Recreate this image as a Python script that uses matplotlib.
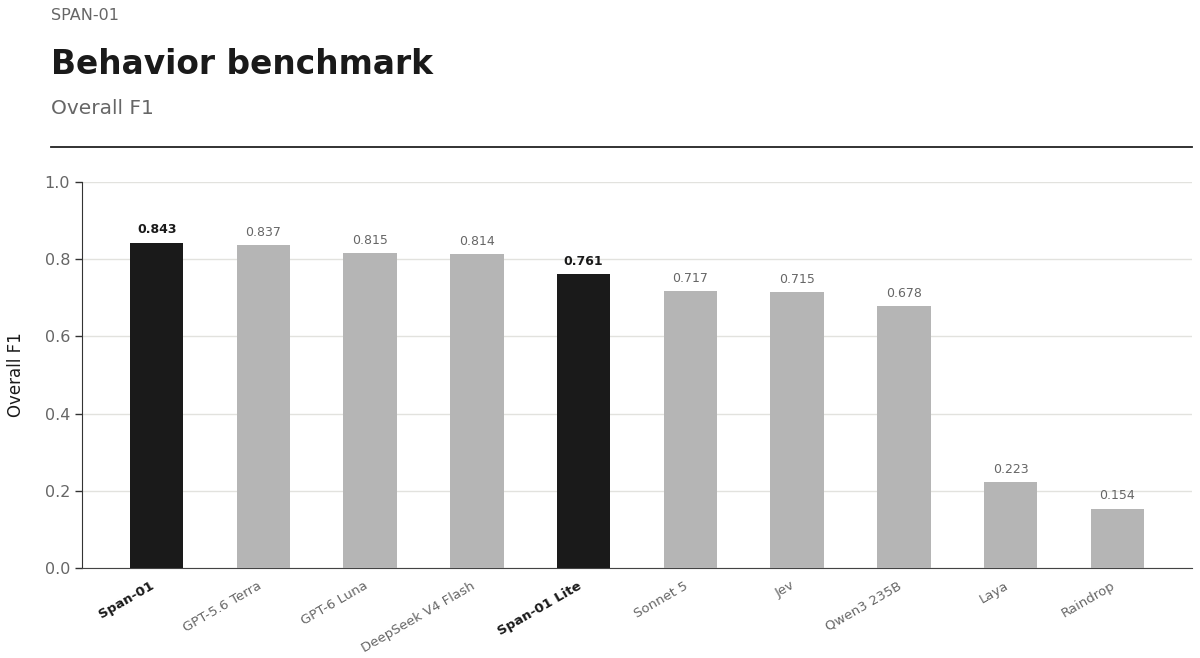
import matplotlib
matplotlib.use("Agg")
import matplotlib.pyplot as plt
from matplotlib.lines import Line2D

models = ["Span-01", "GPT-5.6 Terra", "GPT-6 Luna", "DeepSeek V4 Flash", "Span-01 Lite",
          "Sonnet 5", "Jev", "Qwen3 235B", "Laya", "Raindrop"]
f1 = [0.843, 0.837, 0.815, 0.814, 0.761, 0.717, 0.715, 0.678, 0.223, 0.154]
highlight = [True, False, False, False, True, False, False, False, False, False]
yticks = [0.0, 0.2, 0.4, 0.6, 0.8, 1.0]

DARK = "#1a1a1a"
GRAY = "#b5b5b5"
TXT = "#666666"

plt.rcParams['font.family'] = ['DejaVu Sans']
fig = plt.figure(figsize=(12, 6.58), dpi=100)
ax = fig.add_axes([82/1200, 1-568/658, (1192-82)/1200, (568-182)/658])

x = list(range(len(models)))
colors = [DARK if h else GRAY for h in highlight]
ax.bar(x, f1, width=0.5, color=colors, zorder=3)
for xi, v, h in zip(x, f1, highlight):
    ax.annotate(f"{v:.3f}", (xi, v), xytext=(0, 4.5), textcoords="offset points",
                ha="center", va="bottom", fontsize=9,
                color=DARK if h else TXT, fontweight="bold" if h else "normal")

ax.set_xlim(-0.7, len(models) - 0.3)
ax.set_ylim(0, 1.0)
ax.set_yticks(yticks)
ax.set_yticklabels([f"{t:.1f}" for t in yticks])
ax.set_xticks(x)
ax.set_xticklabels(models, rotation=30, ha="right")
for lbl, h in zip(ax.get_xticklabels(), highlight):
    lbl.set_fontsize(9.5)
    lbl.set_color(DARK if h else TXT)
    if h:
        lbl.set_fontweight("bold")
ax.tick_params(axis="x", length=0, pad=8)
ax.tick_params(axis="y", labelsize=11.5, labelcolor=TXT, color="#333333", length=5, width=1)
ax.yaxis.grid(True, color="#e2e2de", linewidth=1, zorder=0)
ax.set_axisbelow(True)
for s in ["top", "right"]:
    ax.spines[s].set_visible(False)
ax.spines["left"].set_color("#333333")
ax.spines["bottom"].set_color("#444444")
ax.set_ylabel("Overall F1", fontsize=12, color=DARK, labelpad=14)

fig.text(51/1200, 1-15/658, "SPAN-01", fontsize=11.5, color=TXT, va="center", ha="left")
fig.text(51/1200, 1-65/658, "Behavior benchmark", fontsize=23.7, fontweight="bold",
         color=DARK, va="center", ha="left")
fig.text(51/1200, 1-108/658, "Overall F1", fontsize=14.5, color=TXT, va="center", ha="left")
fig.add_artist(Line2D([51/1200, 1192/1200], [1-146.5/658, 1-146.5/658],
                      transform=fig.transFigure, color="#222222", linewidth=1.3))

fig.savefig("out.png", dpi=100)
